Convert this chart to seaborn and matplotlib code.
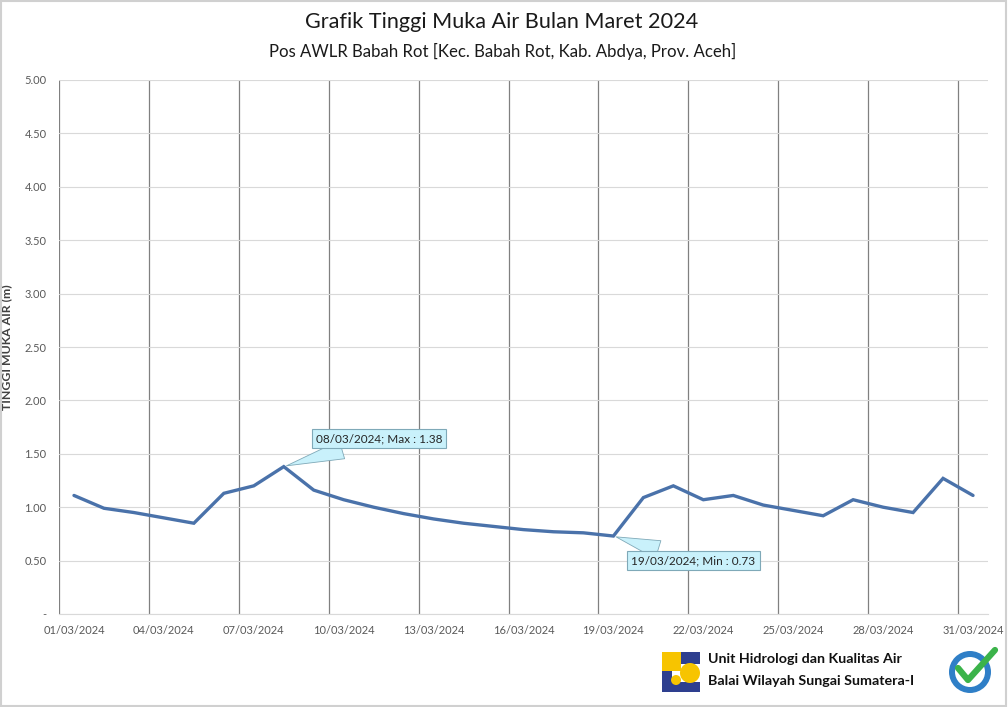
import numpy as np
import pandas as pd
import matplotlib
matplotlib.use("Agg")
import matplotlib.pyplot as plt
import matplotlib.patches as mpatches
from matplotlib.lines import Line2D
import seaborn as sns

# ---------------- data ----------------
dates = [f"{d:02d}/03/2024" for d in range(1, 32)]
levels = [1.11, 0.99, 0.95, 0.90, 0.85, 1.13, 1.20, 1.38, 1.16, 1.07,
          1.00, 0.94, 0.89, 0.85, 0.82, 0.79, 0.77, 0.76, 0.73, 1.09,
          1.20, 1.07, 1.11, 1.02, 0.97, 0.92, 1.07, 1.00, 0.95, 1.27,
          1.11]
y_ticks = [0, 0.5, 1.0, 1.5, 2.0, 2.5, 3.0, 3.5, 4.0, 4.5, 5.0]
title = "Grafik Tinggi Muka Air Bulan Maret 2024"
subtitle = "Pos AWLR Babah Rot [Kec. Babah Rot, Kab. Abdya, Prov. Aceh]"
ylabel = "TINGGI MUKA AIR (m)"
footer_lines = ["Unit Hidrologi dan Kualitas Air", "Balai Wilayah Sungai Sumatera-I"]

df = pd.DataFrame({"day": np.arange(1, len(dates) + 1), "level": levels, "date": dates})

# ---------------- style ----------------
sns.set_style("white")
plt.rcParams["font.family"] = ["Lato", "DejaVu Sans"]

W, H = 1008, 707
fig = plt.figure(figsize=(W / 100, H / 100), dpi=100)
ax = fig.add_axes([59 / W, 1 - 614 / H, (988 - 59) / W, (614 - 80) / H])

sns.lineplot(data=df, x="day", y="level", ax=ax, color="#4a72aa", linewidth=2.4,
             solid_joinstyle="miter")

ax.set_xlim(0.5, len(dates) + 0.5)
ax.set_ylim(0, 5)

# y axis
ax.set_yticks(y_ticks)
ax.set_yticklabels(["-" if v == 0 else f"{v:.2f}" for v in y_ticks])
ax.tick_params(axis="y", length=0, pad=9, labelsize=8, labelcolor="#595959")
ax.yaxis.grid(True, color="#d9d9d9", linewidth=0.8)

# x axis: labels every 3 days, gridlines between categories
ax.set_xticks(df["day"][::3])
ax.set_xticklabels(df["date"][::3])
ax.set_xticks(np.arange(0.5, len(dates) + 0.5, 3), minor=True)
ax.tick_params(axis="x", which="major", length=0, pad=8, labelsize=8, labelcolor="#595959")
ax.tick_params(axis="x", which="minor", length=4, color="#808080", width=0.9)
ax.xaxis.grid(True, which="minor", color="#808080", linewidth=0.9)
ax.xaxis.grid(False, which="major")

for s in ["top", "right", "left"]:
    ax.spines[s].set_visible(False)
ax.spines["bottom"].set_color("#d9d9d9")
ax.spines["bottom"].set_linewidth(0.8)

ax.set_xlabel("")
ax.set_ylabel(ylabel, fontsize=8.8, fontweight="bold", color="#404040")
ax.yaxis.set_label_coords((12 - 59) / (988 - 59), 0.5)

# annotations for max and min
lv = np.array(levels)
imax, imin = int(lv.argmax()), int(lv.argmin())
box = dict(boxstyle="square,pad=0.35", fc="#c9f1fb", ec="#7fa9b8", lw=0.8)
arrow = dict(arrowstyle="wedge,tail_width=1.6,shrink_factor=0.5", fc="#c9f1fb", ec="#7fa9b8", lw=0.6)
ax.annotate(f"{dates[imax]}; Max : {levels[imax]:.2f}", xy=(imax + 1, levels[imax]),
            xytext=(11.18, 1.64), ha="center", va="center", fontsize=8.5,
            bbox=box, arrowprops=arrow, zorder=5)
ax.annotate(f"{dates[imin]}; Min : {levels[imin]:.2f}", xy=(imin + 1, levels[imin]),
            xytext=(21.67, 0.50), ha="center", va="center", fontsize=8.5,
            bbox=box, arrowprops=arrow, zorder=5)

# titles
fig.text(502 / W, 1 - 22 / H, title, ha="center", va="center", fontsize=15.6, color="#1a1a1a")
fig.text(503 / W, 1 - 51 / H, subtitle, ha="center", va="center", fontsize=12.1, color="#1a1a1a")

# footer text
fig.text(708 / W, 1 - 659 / H, footer_lines[0], ha="left", va="center", fontsize=10.3,
         fontweight="bold", color="#111111")
fig.text(708 / W, 1 - 681 / H, footer_lines[1], ha="left", va="center", fontsize=10.3,
         fontweight="bold", color="#111111")

# simple logo shapes (PU logo)
def frect(x0, y0, x1, y1, color):
    fig.patches.append(mpatches.Rectangle((x0 / W, 1 - y1 / H), (x1 - x0) / W, (y1 - y0) / H,
                                          transform=fig.transFigure, fc=color, ec="none"))
frect(662, 652, 681, 671, "#f7c400")
frect(662, 671, 672, 692, "#2e3f8f")
frect(672, 682, 700, 692, "#2e3f8f")
frect(681, 652, 700, 664, "#2e3f8f")
fig.patches.append(mpatches.Ellipse((690 / W, 1 - 673 / H), 20 / W, 20 / H,
                                    transform=fig.transFigure, fc="#f7c400", ec="none"))
fig.patches.append(mpatches.Ellipse((676 / W, 1 - 680 / H), 10 / W, 10 / H,
                                    transform=fig.transFigure, fc="#f7c400", ec="none"))

# ISO badge
fig.patches.append(mpatches.Ellipse((970 / W, 1 - 672 / H), 42 / W, 42 / H,
                                    transform=fig.transFigure, fc="#2f7fc7", ec="none"))
fig.patches.append(mpatches.Ellipse((970 / W, 1 - 672 / H), 30 / W, 30 / H,
                                    transform=fig.transFigure, fc="white", ec="none"))
fig.lines.append(Line2D([958 / W, 968 / W, 995 / W], [1 - 668 / H, 1 - 680 / H, 1 - 650 / H],
                        transform=fig.transFigure, color="#3bb34a", lw=4.5, solid_capstyle="round"))

# figure border
fig.patches.append(mpatches.Rectangle((0.001, 0.002), 0.997, 0.996, transform=fig.transFigure,
                                      fc="none", ec="#d0d0d0", lw=1.5))

fig.savefig("out.png", dpi=100)
